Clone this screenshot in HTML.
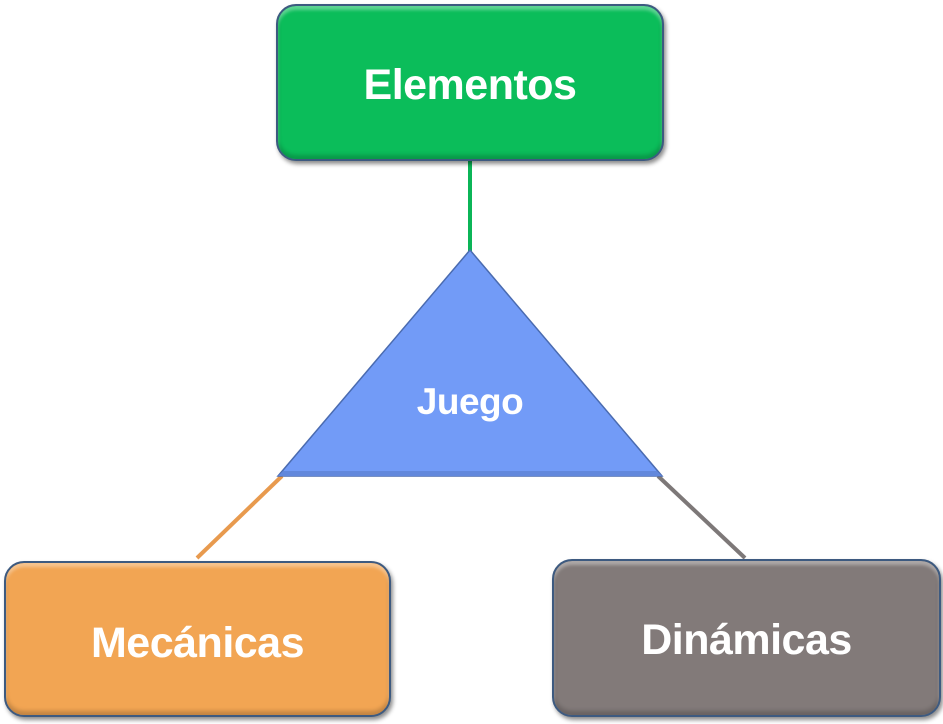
<!DOCTYPE html>
<html><head><meta charset="utf-8"><style>
html,body{margin:0;padding:0;background:#fff;}
body{width:943px;height:724px;position:relative;overflow:hidden;font-family:"Liberation Sans",sans-serif;}
.box{position:absolute;border-radius:20px;color:#fff;font-weight:bold;display:flex;align-items:center;justify-content:center;box-sizing:border-box;border:2px solid #3d5a80;box-shadow:2px 3px 4px rgba(0,0,0,0.45), inset 0 4px 3px rgba(255,255,255,0.35), inset 0 -4px 4px rgba(0,0,0,0.2);letter-spacing:-0.5px;}
</style></head><body>
<svg width="943" height="724" style="position:absolute;left:0;top:0">
<line x1="470" y1="160" x2="470" y2="252" stroke="#0bb557" stroke-width="4"/>
<line x1="282" y1="476" x2="197" y2="558" stroke="#e89a4e" stroke-width="4"/>
<line x1="658" y1="476" x2="745" y2="558" stroke="#7d7878" stroke-width="4"/>
<polygon points="470,250 278,476 662,476" fill="#729bf7" stroke="#4a6bb0" stroke-width="1.5"/>
<polygon points="278,476 662,476 657,471 283,471" fill="#6288dc"/>
<text x="470" y="414" fill="#fff" font-family="Liberation Sans, sans-serif" font-weight="bold" font-size="37" text-anchor="middle" letter-spacing="-0.5">Juego</text>
</svg>
<div class="box" style="left:276px;top:4px;width:388px;height:157px;background:#0bbd5a;font-size:43px;padding-top:6px;">Elementos</div>
<div class="box" style="left:4px;top:561px;width:387px;height:156px;background:#f2a553;font-size:43px;padding-top:8px;">Mecánicas</div>
<div class="box" style="left:552px;top:559px;width:389px;height:158px;background:#827a79;font-size:43px;padding-top:4px;">Dinámicas</div>
</body></html>
